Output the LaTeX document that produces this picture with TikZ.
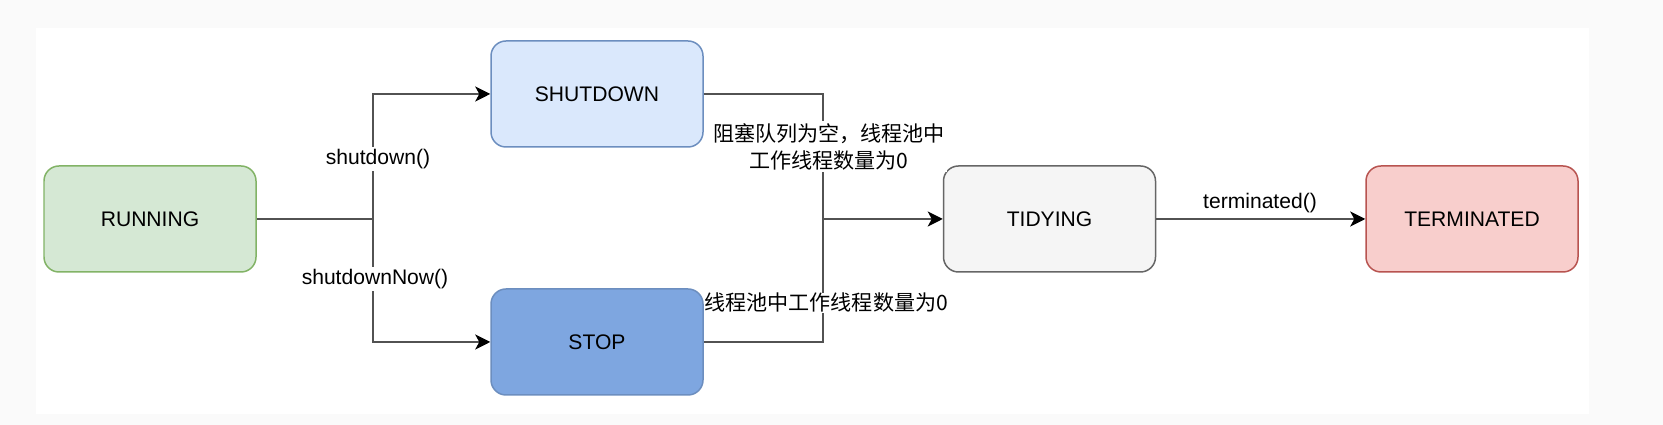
\documentclass[tikz,border=0pt]{standalone}
\usepackage{fontspec}
\setmainfont{Liberation Sans}
\newfontfamily\cjk{Noto Sans CJK SC}
\usetikzlibrary{arrows.meta}

\definecolor{runfill}{HTML}{D5E8D4}
\definecolor{rundraw}{HTML}{82B366}
\definecolor{shutfill}{HTML}{DAE8FC}
\definecolor{shutdraw}{HTML}{6C8EBF}
\definecolor{stopfill}{HTML}{7EA6E0}
\definecolor{tidyfill}{HTML}{F5F5F5}
\definecolor{tidydraw}{HTML}{666666}
\definecolor{termfill}{HTML}{F8CECC}
\definecolor{termdraw}{HTML}{B85450}
\definecolor{pagegray}{HTML}{FAFAFA}

\begin{document}
\begin{tikzpicture}[
    stbox/.style={draw, rounded corners=0.3cm, line width=0.85pt,
        minimum width=4.24cm, minimum height=2.12cm,
        font=\fontsize{12}{14}\selectfont},
    flow/.style={line width=1.2pt, draw=black!68},
    arr/.style={flow, -{Stealth[length=0.3cm, width=0.3cm, inset=0.08cm, fill=black, color=black]}},
    lbl/.style={fill=white, inner sep=1pt, align=center,
        font=\fontsize{12}{15.4}\selectfont}
]
    % Page and white canvas
    \fill[pagegray] (0,0) rectangle (33.26,8.5);
    \fill[white] (0.72,0.22) rectangle (31.78,7.94);
    \useasboundingbox (0,0) rectangle (33.26,8.5);

    % States
    \node[stbox, fill=runfill, draw=rundraw] (run) at (3.0,4.12) {RUNNING};
    \node[stbox, fill=shutfill, draw=shutdraw] (shut) at (11.94,6.62) {SHUTDOWN};
    \node[stbox, fill=stopfill, draw=shutdraw] (stop) at (11.94,1.66) {STOP};
    \node[stbox, fill=tidyfill, draw=tidydraw] (tidy) at (20.99,4.12) {TIDYING};
    \node[stbox, fill=termfill, draw=termdraw] (term) at (29.44,4.12) {TERMINATED};

    % Branch and merge points
    \coordinate (split) at (7.46,4.12);
    \coordinate (merge) at (16.46,4.12);

    % RUNNING to SHUTDOWN / STOP
    \draw[flow] (run) -- (split);
    \draw[arr] (split) |- (shut);
    \draw[arr] (split) |- (stop);

    % SHUTDOWN / STOP to TIDYING
    \draw[flow] (shut) -| (merge);
    \draw[flow] (stop) -| (merge);
    \draw[arr] (merge) -- (tidy);

    % TIDYING to TERMINATED
    \draw[arr] (tidy) -- (term);

    % Edge labels
    \node[lbl] (lshut) at (7.56,5.32) {shutdown()};
    \node[lbl] (lstop) at (7.5,2.92) {shutdownNow()};
    \node[lbl] (lempty) at (16.58,5.57) {\cjk 阻塞队列为空，线程池中\\\cjk 工作线程数量为0};
    \node[lbl, inner sep=0pt, anchor=west] (lzero) at (14.08,2.44) {\cjk 线程池中工作线程数量为0};
    \node[lbl, fill=none] (lterm) at (25.2,4.44) {terminated()};

\end{tikzpicture}
\end{document}
